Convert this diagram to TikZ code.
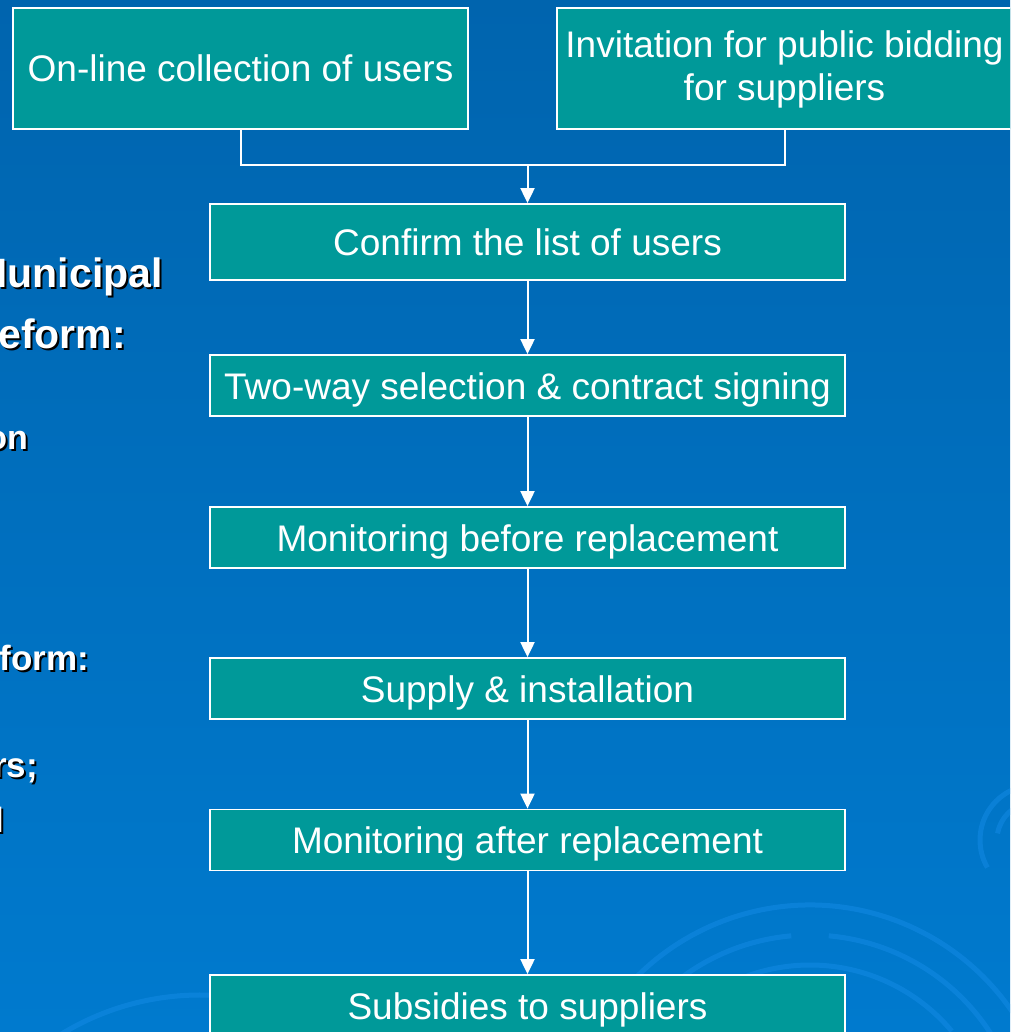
\documentclass[tikz,border=0pt]{standalone}
\usepackage{fontspec}
\setmainfont{Liberation Sans}
\usetikzlibrary{calc,arrows.meta}
\definecolor{slidetop}{RGB}{0,100,174}
\definecolor{slidebottom}{RGB}{0,122,206}
\definecolor{boxteal}{RGB}{0,153,153}
\definecolor{swirlblue}{RGB}{20,138,228}

\begin{document}
\begin{tikzpicture}[x=1pt,y=-1pt,
  stepbox/.style={draw=white,line width=1.8pt,fill=boxteal,text=white,inner sep=0pt,
    minimum width=635pt,minimum height=61pt,text height=27pt,text depth=0pt,
    font=\fontsize{37}{43}\selectfont,align=center},
  flow/.style={draw=white,line width=2pt},
  link/.style={flow,-{Triangle[width=14pt,length=15pt]}},
  sidetext/.style={anchor=base east,inner sep=0pt,font=\bfseries\fontsize{#1}{#1}\selectfont},
  swirl/.style={draw=swirlblue,line width=5pt,opacity=0.55}]
                      \useasboundingbox (0,0) rectangle (1010,1032);
                      \clip (0,0) rectangle (1010,1032);
                      \shade[top color=slidetop,bottom color=slidebottom] (0,0) rectangle (1010,1032);
                      \draw[swirl] (810,1150) ++(-160:245) arc (-160:-20:245);
                      \draw[swirl] (810,1150) ++(-150:215) arc (-150:-95:215);
                      \draw[swirl] (810,1150) ++(-85:215) arc (-85:-30:215);
                      \draw[swirl] (810,1150) ++(-140:185) arc (-140:-40:185);
                      \draw[swirl] (200,1260) ++(-145:265) arc (-145:-60:265);
                      \draw[swirl] (1035,840) ++(150:55) arc (150:250:55);
                      \draw[swirl] (1035,840) ++(-170:38) arc (-170:-100:38);
                      \node[sidetext=41,black] (munS) at (165,289) {Municipal};
                      \node[sidetext=41,white] (mun) at (163,287) {Municipal};
                      \node[sidetext=41,black] (refS) at (128,350) {reform:};
                      \node[sidetext=41,white] (ref) at (126,348) {reform:};
                      \node[sidetext=34,black] (onS) at (30,451) {on};
                      \node[sidetext=34,white] (on) at (28,449) {on};
                      \node[sidetext=35,black] (formS) at (91,672) {form:};
                      \node[sidetext=35,white] (form) at (89,670) {form:};
                      \node[sidetext=35,black] (rsS) at (40,779) {rs;};
                      \node[sidetext=35,white] (rs) at (38,777) {rs;};
                      \node[sidetext=35,black] (lS) at (6,834) {l};
                      \node[sidetext=35,white] (l) at (4,832) {l};
                      \node[stepbox,minimum width=455pt,minimum height=121pt] (users) at (240.5,68.5) {On-line collection of users};
                      \node[stepbox,minimum width=455pt,minimum height=121pt,text height=70pt,text depth=5pt] (bidding) at (784.5,68.5) {Invitation for public bidding\\for suppliers};
                      \node[stepbox,minimum height=76pt] (confirm) at (527.5,242) {Confirm the list of users};
                      \node[stepbox] (select) at (527.5,385.5) {Two-way selection \& contract signing};
                      \node[stepbox] (before) at (527.5,537.5) {Monitoring before replacement};
                      \node[stepbox] (supply) at (527.5,688.5) {Supply \& installation};
                      \node[stepbox] (after) at (527.5,840) {Monitoring after replacement};
                      \node[stepbox] (subsidy) at (527.5,1005.5) {Subsidies to suppliers};
                      \coordinate (join) at (527.5,165);
                      \draw[flow] (users.south) |- (join) -| (bidding.south);
                      \draw[link] (join) -- (confirm);
                      \draw[link] (confirm) -- (select);
                      \draw[link] (select) -- (before);
                      \draw[link] (before) -- (supply);
                      \draw[link] (supply) -- (after);
                      \draw[link] (after) -- (subsidy);
\end{tikzpicture}
\end{document}
